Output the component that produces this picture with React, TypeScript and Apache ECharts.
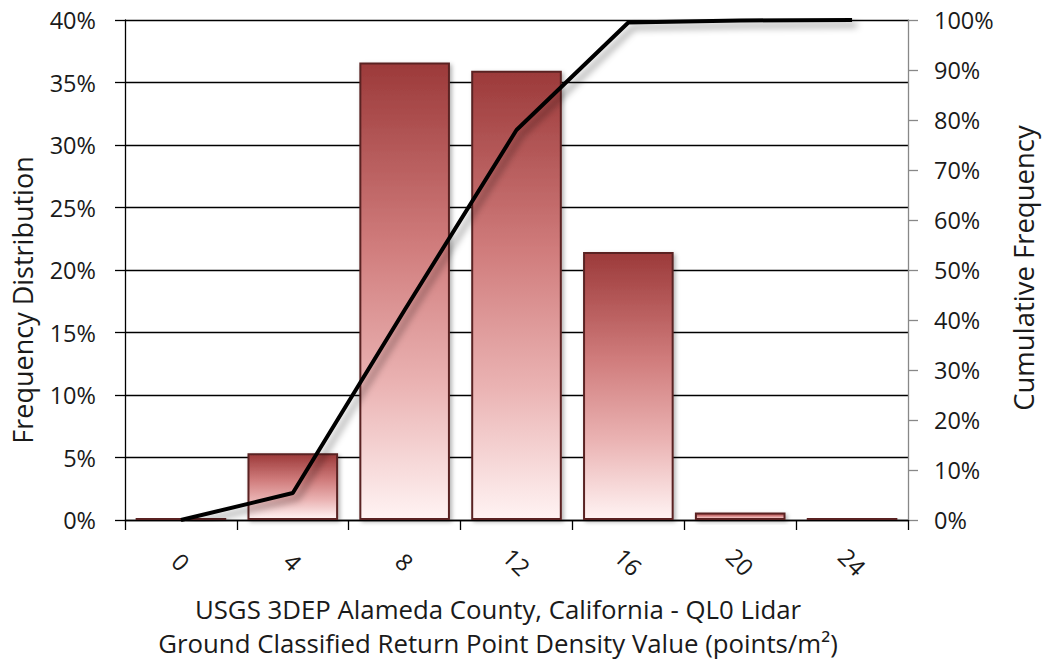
import React, { useEffect, useRef } from "react";
import * as echarts from "echarts";

const categories = ["0", "4", "8", "12", "16", "20", "24"];
const frequency = [0.18, 5.35, 36.6, 35.95, 21.45, 0.6, 0.18];
const cumulative = [0, 5.4, 42.0, 78.0, 99.5, 99.9, 100];
const titleLines = [
  "USGS 3DEP Alameda County, California - QL0 Lidar",
  "Ground Classified Return Point Density Value (points/m²)",
];
const leftName = "Frequency Distribution";
const rightName = "Cumulative Frequency";

const FONT = "Open Sans";

export default function App() {
  const ref = useRef<HTMLDivElement>(null);
  useEffect(() => {
    if (!ref.current) return;
    const chart = echarts.init(ref.current, null, { renderer: "svg" });
    const txt = (text: string, x: number, y: number, size: number, rotation = 0) => ({
      type: "text",
      x,
      y,
      rotation,
      style: {
        text,
        font: `${size}px "${FONT}"`,
        fill: "#1a1a1a",
        textAlign: "center",
        textVerticalAlign: "middle",
      },
    });
    chart.setOption({
      animation: false,
      backgroundColor: "#ffffff",
      textStyle: { fontFamily: FONT },
      grid: { left: 125, right: 136, top: 20, bottom: 142 },
      xAxis: {
        type: "category",
        data: categories,
        boundaryGap: true,
        axisLine: { lineStyle: { color: "#000", width: 1.3 } },
        axisTick: { show: true, length: 10, lineStyle: { color: "#000", width: 1.3 } },
        axisLabel: {
          rotate: -45,
          align: "center",
          verticalAlign: "middle",
          margin: 42,
          fontSize: 23.5,
          color: "#1a1a1a",
          fontFamily: FONT,
        },
      },
      yAxis: [
        {
          type: "value",
          min: 0,
          max: 40,
          interval: 5,
          axisLine: { show: true, lineStyle: { color: "#000", width: 1.3 } },
          axisTick: { show: true, length: 10, lineStyle: { color: "#000", width: 1.3 } },
          axisLabel: { formatter: "{value}%", fontSize: 23.5, color: "#1a1a1a", margin: 29, fontFamily: FONT },
          splitLine: { show: true, lineStyle: { color: "#000", width: 1.3 } },
        },
        {
          type: "value",
          min: 0,
          max: 100,
          interval: 10,
          position: "right",
          axisLine: { show: true, lineStyle: { color: "#888", width: 1.3 } },
          axisTick: { show: true, length: 10, lineStyle: { color: "#888", width: 1.3 } },
          axisLabel: { formatter: "{value}%", fontSize: 23.5, color: "#1a1a1a", margin: 26, fontFamily: FONT },
          splitLine: { show: false },
        },
      ],
      series: [
        {
          type: "bar",
          data: frequency,
          barCategoryGap: "19%",
          itemStyle: {
            color: new echarts.graphic.LinearGradient(0, 0, 0, 1, [
              { offset: 0, color: "#9c3a3a" },
              { offset: 0.4, color: "#d07c7c" },
              { offset: 0.7, color: "#eab2b2" },
              { offset: 1, color: "#fff3f3" },
            ]),
            borderColor: "#5a2424",
            borderWidth: 2,
            shadowColor: "rgba(0,0,0,0.3)",
            shadowBlur: 4,
            shadowOffsetX: 2,
            shadowOffsetY: 2,
          },
        },
        {
          type: "line",
          yAxisIndex: 1,
          data: cumulative,
          symbol: "none",
          lineStyle: {
            color: "#000",
            width: 4,
            shadowColor: "rgba(0,0,0,0.4)",
            shadowBlur: 7,
            shadowOffsetX: 5,
            shadowOffsetY: 5,
          },
          z: 5,
        },
      ],
      graphic: [
        txt(titleLines[0], 498, 609, 25.8),
        txt(titleLines[1], 498, 643, 25.8),
        txt(leftName, 22, 300, 27, Math.PI / 2),
        txt(rightName, 1023, 268, 27.5, Math.PI / 2),
      ],
    });
    return () => chart.dispose();
  }, []);
  return <div ref={ref} style={{ width: 1044, height: 662, position: "absolute", left: 0, top: 0 }} />;
}
